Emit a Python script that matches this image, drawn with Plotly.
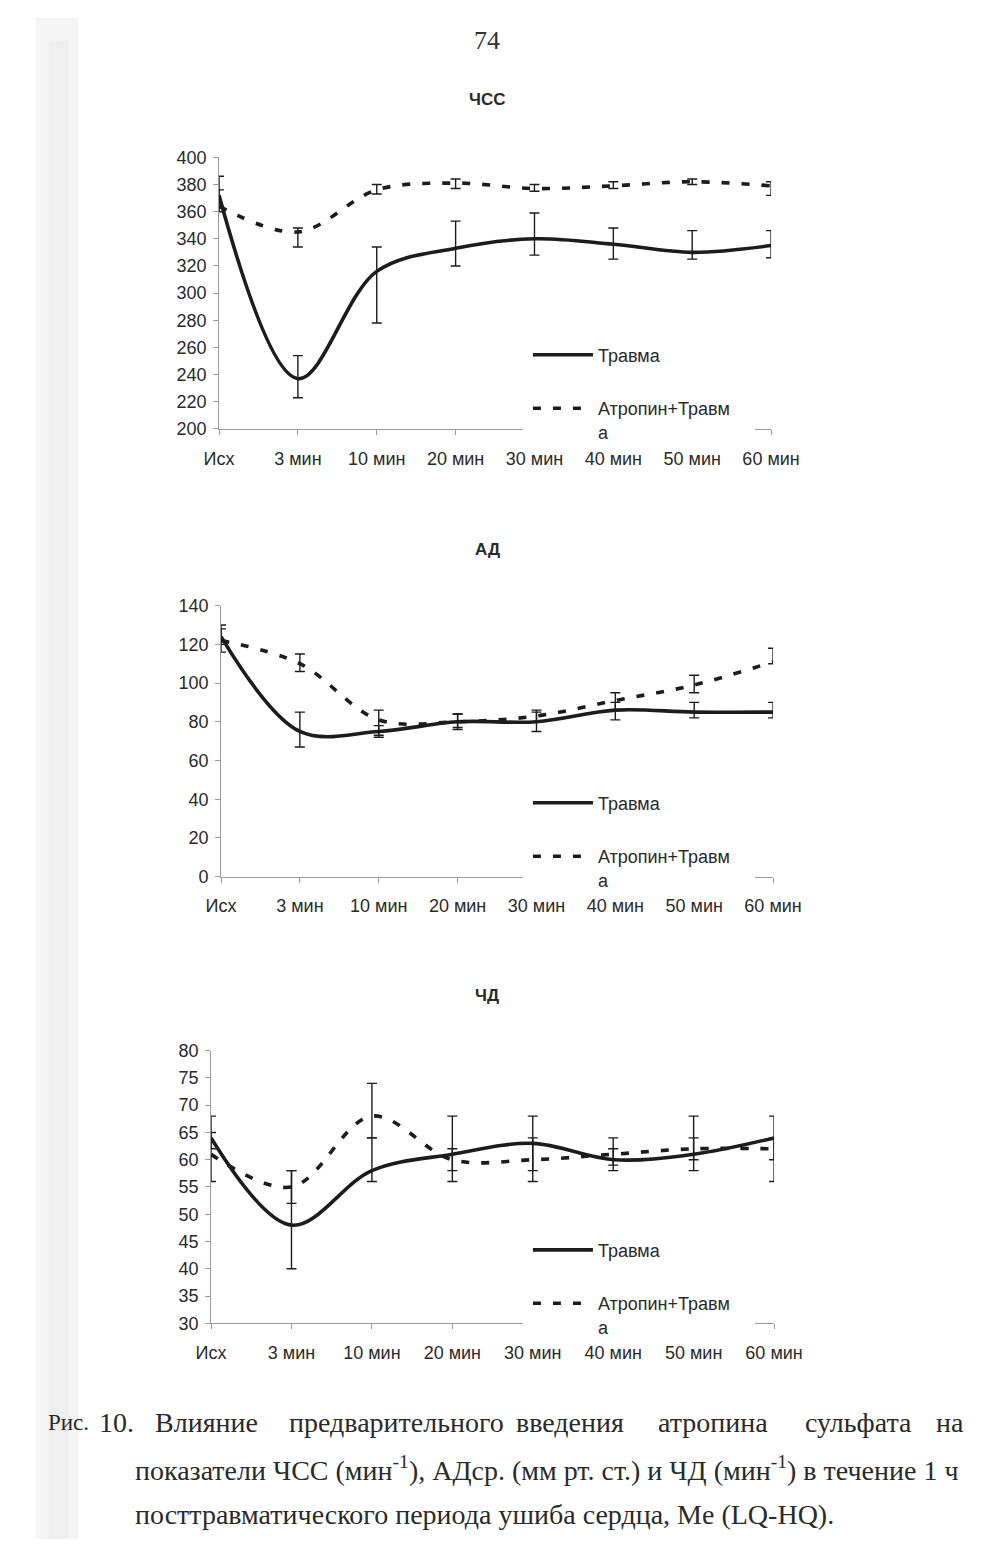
import plotly.graph_objects as go

# page is drawn inside the default 8px body margin of the html page
OFF = 8
W, H = 1007 - 2 * OFF, 1557 - 2 * OFF
# measured relation between page pixels and the photographed picture
SX, DX = 0.959, 14.6
SY, DY = 0.987, 9.5


def px(x):
    """reference picture x (px) -> paper fraction"""
    return ((x - DX) / SX - OFF) / W


def py(y):
    """reference picture y (px) -> paper fraction"""
    return 1 - ((y - DY) / SY - OFF) / H


categories = ["Исх", "3 мин", "10 мин", "20 мин", "30 мин", "40 мин", "50 мин", "60 мин"]
series_names = ["Травма", "Атропин+Травм<br>а"]

# ЧСС
hr_trauma = [372, 237, 316, 333, 340, 336, 330, 335]
hr_trauma_lq = [360, 223, 278, 320, 328, 325, 325, 326]
hr_trauma_hq = [386, 254, 334, 353, 359, 348, 346, 346]
hr_atro = [364, 345, 376, 381, 377, 379, 382, 379]
hr_atro_lq = [360, 334, 373, 377, 375, 377, 380, 372]
hr_atro_hq = [376, 348, 380, 384, 380, 382, 384, 382]

# АД
bp_trauma = [124, 75, 75, 80, 80, 86, 85, 85]
bp_trauma_lq = [120, 67, 72, 76, 75, 81, 82, 82]
bp_trauma_hq = [130, 85, 78, 84, 86, 90, 90, 90]
bp_atro = [122, 110, 81, 80, 83, 91, 99, 111]
bp_atro_lq = [116, 106, 73, 77, 80, 86, 95, 110]
bp_atro_hq = [128, 115, 86, 84, 85, 95, 104, 118]

# ЧД
rr_trauma = [64, 48, 58, 61, 63, 60, 61, 64]
rr_trauma_lq = [62, 40, 56, 56, 56, 58, 58, 56]
rr_trauma_hq = [68, 58, 64, 68, 68, 64, 68, 68]
rr_atro = [61, 55, 68, 60, 60, 61, 62, 62]
rr_atro_lq = [56, 52, 64, 58, 58, 59, 60, 60]
rr_atro_hq = [65, 58, 74, 62, 64, 62, 64, 64]

titles = ["ЧСС", "АД", "ЧД"]
y_ranges = [(200, 400, 20), (0, 140, 20), (30, 80, 5)]

# plot boxes in reference pixels: (left, right, top, bottom)
boxes = [(219, 773, 156.7, 428.3), (221, 775, 605, 876), (211, 776, 1050, 1322.7)]
title_y = [99, 549, 995]
legend_top = [336, 784, 1231]

panels = [
    (hr_trauma, hr_trauma_lq, hr_trauma_hq, hr_atro, hr_atro_lq, hr_atro_hq),
    (bp_trauma, bp_trauma_lq, bp_trauma_hq, bp_atro, bp_atro_lq, bp_atro_hq),
    (rr_trauma, rr_trauma_lq, rr_trauma_hq, rr_atro, rr_atro_lq, rr_atro_hq),
]

INK = "#1c1c1c"
AXIS = "#9a9a9a"
TXT = "#2a2a2a"
SANS = "Liberation Sans, Arial, sans-serif"
SERIF = "Liberation Serif, Times New Roman, serif"
FS = 18

fig = go.Figure()
xpos = list(range(len(categories)))

layout = dict(
    width=W, height=H, margin=dict(l=0, r=0, t=0, b=0),
    paper_bgcolor="white", plot_bgcolor="white",
    showlegend=True,
)
annotations = []
shapes = [
    # faint scan shadow along the left edge
    dict(type="rect", xref="paper", yref="paper", x0=px(35), x1=px(78), y0=0, y1=1,
         fillcolor="#f5f5f5", line=dict(width=0), layer="below"),
    dict(type="rect", xref="paper", yref="paper", x0=px(48), x1=px(68), y0=0, y1=py(40),
         fillcolor="#efefef", line=dict(width=0), layer="below"),
]

for i, (tv, tl, th, av, al, ah) in enumerate(panels):
    sfx = "" if i == 0 else str(i + 1)
    xa, ya = "x" + sfx, "y" + sfx
    lg = "legend" if i == 0 else "legend" + str(i + 1)
    fig.add_trace(go.Scatter(
        x=xpos, y=tv, xaxis=xa, yaxis=ya, mode="lines",
        name=series_names[0], legend=lg, legendgroup="t%d" % i,
        line=dict(color=INK, width=3.6, shape="spline", smoothing=1),
        error_y=dict(type="data", symmetric=False,
                     array=[h - v for h, v in zip(th, tv)],
                     arrayminus=[v - l for v, l in zip(tv, tl)],
                     color=INK, thickness=1.4, width=5),
    ))
    fig.add_trace(go.Scatter(
        x=xpos, y=av, xaxis=xa, yaxis=ya, mode="lines",
        name=series_names[1], legend=lg, legendgroup="a%d" % i,
        line=dict(color=INK, width=3.6, shape="spline", smoothing=1, dash="8px,12px"),
        error_y=dict(type="data", symmetric=False,
                     array=[h - v for h, v in zip(ah, av)],
                     arrayminus=[v - l for v, l in zip(av, al)],
                     color=INK, thickness=1.4, width=5),
    ))
    l, r, t, b = boxes[i]
    y0, y1, dy = y_ranges[i]
    layout["xaxis" + sfx] = dict(
        domain=[px(l), px(r)], anchor=ya, range=[0, len(categories) - 1],
        tickmode="array", tickvals=xpos, ticktext=categories,
        showgrid=False, zeroline=False, showline=True, linecolor=AXIS, linewidth=1,
        ticks="outside", ticklen=5, tickcolor=AXIS, ticklabelstandoff=8,
        tickfont=dict(family=SANS, size=FS, color=TXT),
    )
    layout["yaxis" + sfx] = dict(
        domain=[py(b), py(t)], anchor=xa, range=[y0, y1],
        tickmode="linear", tick0=y0, dtick=dy,
        showgrid=False, zeroline=False, showline=True, linecolor=AXIS, linewidth=1,
        ticks="outside", ticklen=5, tickcolor=AXIS, ticklabelstandoff=3,
        tickfont=dict(family=SANS, size=FS, color=TXT),
    )
    layout[lg] = dict(
        x=px(529), y=py(legend_top[i]), xanchor="left", yanchor="top",
        bgcolor="rgba(0,0,0,0)", borderwidth=0, itemwidth=60, valign="top",
        traceorder="grouped", tracegroupgap=27,
        font=dict(family=SANS, size=FS, color=TXT),
    )
    # the legend box hides this stretch of the category axis
    shapes.append(dict(type="rect", xref="paper", yref="paper",
                       x0=px(524), x1=px(757), y0=py(b + 9), y1=py(b - 9),
                       fillcolor="white", line=dict(width=0), layer="above"))
    annotations.append(dict(
        text="<b>%s</b>" % titles[i], x=px(488), y=py(title_y[i]),
        xref="paper", yref="paper", showarrow=False, xanchor="center", yanchor="middle",
        font=dict(family=SANS, size=17, color=TXT),
    ))

# page number
annotations.append(dict(text="74", x=px(488), y=py(40), xref="paper", yref="paper",
                        showarrow=False, xanchor="center", yanchor="middle",
                        font=dict(family=SERIF, size=26, color="#333")))

# caption (justified first line, placed word by word)
CAP = 28
cap1 = [("Рис.", 45), ("10.", 97), ("Влияние", 153), ("предварительного", 287),
        ("введения", 515), ("атропина", 658), ("сульфата", 805), ("на", 937)]
for word, xp in cap1:
    annotations.append(dict(text=word, x=px(xp), y=py(1422), xref="paper", yref="paper",
                            showarrow=False, xanchor="left", yanchor="middle",
                            font=dict(family=SERIF, size=CAP if word != "Рис." else 23, color=TXT)))
annotations.append(dict(
    text="показатели ЧСС (мин<sup>-1</sup>), АДср. (мм рт. ст.) и ЧД (мин<sup>-1</sup>) в течение 1 ч",
    x=px(133), y=py(1468), xref="paper", yref="paper", showarrow=False,
    xanchor="left", yanchor="middle", font=dict(family=SERIF, size=CAP, color=TXT)))
annotations.append(dict(
    text="посттравматического периода ушиба сердца, Me (LQ-HQ).",
    x=px(133), y=py(1514), xref="paper", yref="paper", showarrow=False,
    xanchor="left", yanchor="middle", font=dict(family=SERIF, size=CAP, color=TXT)))

layout["annotations"] = annotations
layout["shapes"] = shapes
fig.update_layout(**layout)
fig.write_html("out.html")
